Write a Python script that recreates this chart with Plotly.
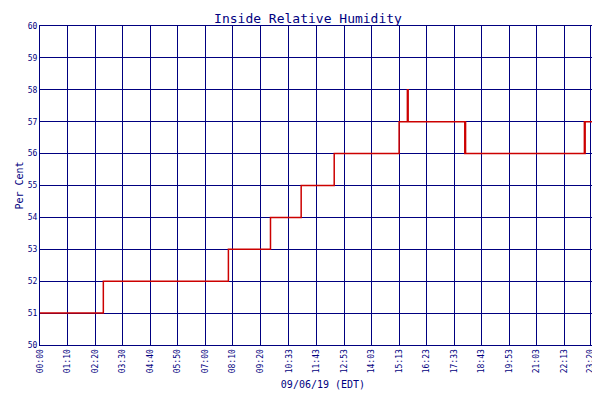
import plotly.graph_objects as go

minutes = [0, 160, 161, 478, 479, 585, 586, 663, 664, 747, 748, 912, 913, 933, 934, 936, 1079, 1080, 1081, 1082, 1383, 1384, 1385, 1386, 1439]
humidity = [51, 51, 52, 52, 53, 53, 54, 54, 55, 55, 56, 56, 57, 57, 58, 57, 57, 56, 57, 56, 56, 57, 56, 57, 57]
tick_minutes = [0, 70, 140, 210, 280, 350, 420, 490, 560, 633, 703, 773, 843, 913, 983, 1053, 1123, 1193, 1263, 1333, 1400, 1439]
tick_labels = ["00:00", "01:10", "02:20", "03:30", "04:40", "05:50", "07:00", "08:10", "09:20", "10:33", "11:43",
               "12:53", "14:03", "15:13", "16:23", "17:33", "18:43", "19:53", "21:03", "22:13", "23:20", "23:59"]
navy = "#000080"
font = "DejaVu Sans Mono"

fig = go.Figure(go.Scatter(x=minutes, y=humidity, mode="lines", line_shape="hv",
                           line=dict(color="#cc0000", width=1.5), name="Relative Humidity"))
fig.update_layout(
    width=600, height=400, paper_bgcolor="white", plot_bgcolor="white",
    margin=dict(l=32, r=2, t=18, b=63, autoexpand=False),
    title=dict(text="Inside Relative Humidity", x=0.5, y=0.985, yanchor="top",
               font=dict(family=font, size=13, color=navy)),
    font=dict(family=font, color=navy, size=8),
    showlegend=True,
    legend=dict(orientation="h", x=0.5, xanchor="center", y=-0.25, yanchor="top", font=dict(size=8)),
)
fig.update_xaxes(range=[0, 1439], tickvals=tick_minutes, ticktext=tick_labels, tickangle=-90,
                 showgrid=True, gridcolor=navy, gridwidth=1, showline=True, linecolor=navy, mirror=True,
                 title=dict(text="09/06/19 (EDT)", font=dict(size=10, color=navy), standoff=8),
                 tickfont=dict(size=8), zeroline=False, automargin=False)
fig.update_yaxes(range=[50, 60], dtick=1, showgrid=True, gridcolor=navy, gridwidth=1,
                 showline=True, linecolor=navy, mirror=True, zeroline=False, automargin=False,
                 title=dict(text="Per Cent", font=dict(size=10, color=navy), standoff=2),
                 tickfont=dict(size=8))
fig.write_html("out.html")
